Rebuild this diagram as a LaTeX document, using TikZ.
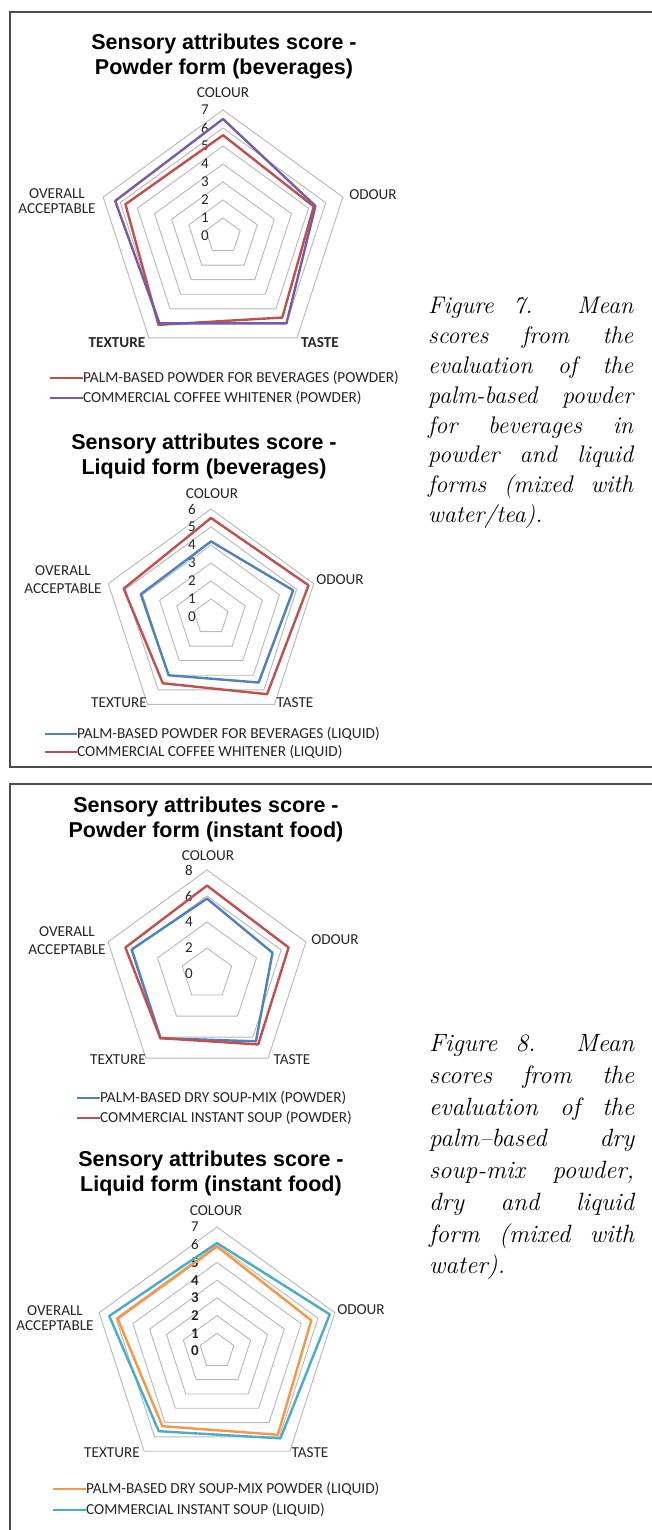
\documentclass[tikz,border=0pt]{standalone}
\usepackage{fontspec}
\newfontfamily\chartfont{Carlito}
\newfontfamily\titlefont{Liberation Sans}
\definecolor{xlred}{RGB}{192,80,77}
\definecolor{xlpurple}{RGB}{118,92,166}
\definecolor{xlblue}{RGB}{79,129,189}
\definecolor{xlorange}{RGB}{247,150,70}
\definecolor{xlteal}{RGB}{75,172,198}
\hyphenpenalty=10000
\exhyphenpenalty=10000
\begin{document}
\begin{tikzpicture}[x=1pt, y=-1pt,
  frameline/.style={draw=black!70, line width=1.4pt},
  gridline/.style={draw=black!28, line width=0.9pt},
  charttitle/.style={font=\titlefont\bfseries\fontsize{21.5}{25}\selectfont, align=center, inner sep=0pt, anchor=north},
  axislabel/.style={font=\chartfont\fontsize{15.2}{15}\selectfont, text=black!85, inner sep=0pt, align=center},
  ticklabel/.style={font=\chartfont\fontsize{15}{15}\selectfont, text=black!85, inner sep=0pt, anchor=east},
  legendtext/.style={font=\chartfont\fontsize{15.3}{15}\selectfont, text=black!85, inner sep=0pt, anchor=west},
  series/.style={line width=2.4pt, line join=round},
  legline/.style={line width=2pt},
  caption/.style={text width=205pt, align=justify, inner sep=0pt, anchor=north west}]

\useasboundingbox[fill=white] (0,0) rectangle (651,1530);

% frames
\draw[frameline] (670,12) -- (10,12) -- (10,767) -- (670,767);
\draw[frameline] (670,784) -- (10,784) -- (10,1545);

%% Figure 7, powder form
\node[charttitle] (ttlPowBev) at (224,33.5) {Sensory attributes score -\\Powder form (beverages)};
\begin{scope}[shift={(223,236)}]
	\foreach \k in {1,...,7}
		\draw[gridline] (-90:{\k*18}) -- (-18:{\k*18}) -- (54:{\k*18}) -- (126:{\k*18}) -- (198:{\k*18}) -- cycle;
	\foreach \k in {0,...,7}
		\node[ticklabel] at (-14,{-\k*18}) {\k};
	\draw[series, draw=xlred] (-90:{5.6*18}) -- (-18:{5.3*18}) -- (54:{5.6*18}) -- (126:{6.1*18}) -- (198:{5.7*18}) -- cycle;
	\draw[series, draw=xlpurple] (-90:{6.5*18}) -- (-18:{5.4*18}) -- (54:{6.0*18}) -- (126:{6.0*18}) -- (198:{6.3*18}) -- cycle;
\end{scope}
\node[axislabel] (colPowBev) at (223,93) {COLOUR};
\node[axislabel] (odoPowBev) at (373,195) {ODOUR};
\node[axislabel] (taPowBev) at (320,343) {\bfseries TASTE};
\node[axislabel] (texPowBev) at (117,343) {\bfseries TEXTURE};
\node[axislabel] (ovPowBev) at (57,201.5) {OVERALL\\ACCEPTABLE};
\node[legendtext] (legPalmPow) at (83,378) {PALM-BASED POWDER FOR BEVERAGES (POWDER)};
\node[legendtext] (legComPow) at (83,398) {COMMERCIAL COFFEE WHITENER (POWDER)};
\coordinate (legPalmPowS) at (50,378);
\coordinate (legComPowS) at (50,398);
\draw[legline, draw=xlred] (legPalmPowS) -- (legPalmPow.west);
\draw[legline, draw=xlpurple] (legComPowS) -- (legComPow.west);

%% Figure 7, liquid form
\node[charttitle] (ttlLiqBev) at (204,433.5) {Sensory attributes score -\\Liquid form (beverages)};
\begin{scope}[shift={(211,617)}]
	\foreach \k in {1,...,6}
		\draw[gridline] (-90:{\k*18}) -- (-18:{\k*18}) -- (54:{\k*18}) -- (126:{\k*18}) -- (198:{\k*18}) -- cycle;
	\foreach \k in {0,...,6}
		\node[ticklabel] at (-15,{-\k*18}) {\k};
	\draw[series, draw=xlblue] (-90:{4.2*18}) -- (-18:{4.8*18}) -- (54:{4.5*18}) -- (126:{4.0*18}) -- (198:{4.1*18}) -- cycle;
	\draw[series, draw=xlred] (-90:{5.5*18}) -- (-18:{5.7*18}) -- (54:{5.3*18}) -- (126:{4.55*18}) -- (198:{5.1*18}) -- cycle;
\end{scope}
\node[axislabel] (colLiqBev) at (212,494) {COLOUR};
\node[axislabel] (odoLiqBev) at (340,580) {ODOUR};
\node[axislabel] (taLiqBev) at (295,703) {TASTE};
\node[axislabel] (texLiqBev) at (119,703) {TEXTURE};
\node[axislabel] (ovLiqBev) at (63,580) {OVERALL\\[3pt]ACCEPTABLE};
\node[legendtext] (legPalmLiq) at (77,734) {PALM-BASED POWDER FOR BEVERAGES (LIQUID)};
\node[legendtext] (legComLiq) at (77,752) {COMMERCIAL COFFEE WHITENER (LIQUID)};
\coordinate (legPalmLiqS) at (45,734);
\coordinate (legComLiqS) at (45,752);
\draw[legline, draw=xlblue] (legPalmLiqS) -- (legPalmLiq.west);
\draw[legline, draw=xlred] (legComLiqS) -- (legComLiq.west);

\node[caption, font=\fontsize{24}{29.8}\selectfont\itshape] (capSeven) at (428,297.3) {Figure 7. Mean\linebreak scores from the\linebreak evaluation of the\linebreak palm-based powder\linebreak for beverages in\linebreak powder and liquid\linebreak forms (mixed with\linebreak water/tea).};

%% Figure 8, powder form
\node[charttitle] (ttlPowSoup) at (206,797) {Sensory attributes score -\\Powder form (instant food)};
\begin{scope}[shift={(207,974)}]
	\foreach \k in {2,4,6,8}
		\draw[gridline] (-90:{\k*13}) -- (-18:{\k*13}) -- (54:{\k*13}) -- (126:{\k*13}) -- (198:{\k*13}) -- cycle;
	\foreach \k in {0,2,4,6,8}
		\node[ticklabel] at (-14,{-\k*13}) {\k};
	\draw[series, draw=xlblue] (-90:{5.8*13}) -- (-18:{5.3*13}) -- (54:{6.4*13}) -- (126:{6.1*13}) -- (198:{6.1*13}) -- cycle;
	\draw[series, draw=xlred] (-90:{6.8*13}) -- (-18:{6.6*13}) -- (54:{6.7*13}) -- (126:{6.1*13}) -- (198:{6.6*13}) -- cycle;
\end{scope}
\node[axislabel] (colPowSoup) at (208,856) {COLOUR};
\node[axislabel] (odoPowSoup) at (335,940) {ODOUR};
\node[axislabel] (taPowSoup) at (292,1060) {TASTE};
\node[axislabel] (texPowSoup) at (118,1060) {TEXTURE};
\node[axislabel] (ovPowSoup) at (67,941) {OVERALL\\[3pt]ACCEPTABLE};
\node[legendtext] (legPalmSoupP) at (100,1098) {PALM-BASED DRY SOUP-MIX (POWDER)};
\node[legendtext] (legComSoupP) at (100,1118) {COMMERCIAL INSTANT SOUP (POWDER)};
\coordinate (legPalmSoupPS) at (77,1098);
\coordinate (legComSoupPS) at (77,1118);
\draw[legline, draw=xlblue] (legPalmSoupPS) -- (legPalmSoupP.west);
\draw[legline, draw=xlred] (legComSoupPS) -- (legComSoupP.west);

%% Figure 8, liquid form
\node[charttitle] (ttlLiqSoup) at (211,1151) {Sensory attributes score -\\Liquid form (instant food)};
\begin{scope}[shift={(217,1351)}]
	\foreach \k in {1,...,7}
		\draw[gridline] (-90:{\k*17.7}) -- (-18:{\k*17.7}) -- (54:{\k*17.7}) -- (126:{\k*17.7}) -- (198:{\k*17.7}) -- cycle;
	\foreach \k in {0,...,5}
		\node[ticklabel, font=\chartfont\bfseries\fontsize{15}{15}\selectfont] at (-18,{-\k*17.7}) {\k};
	\foreach \k in {6,7}
		\node[ticklabel] at (-18,{-\k*17.7}) {\k};
	\draw[series, draw=xlorange] (-90:{5.9*17.7}) -- (-18:{5.6*17.7}) -- (54:{5.85*17.7}) -- (126:{5.25*17.7}) -- (198:{5.9*17.7}) -- cycle;
	\draw[series, draw=xlteal] (-90:{6.1*17.7}) -- (-18:{6.7*17.7}) -- (54:{6.1*17.7}) -- (126:{5.6*17.7}) -- (198:{6.4*17.7}) -- cycle;
\end{scope}
\node[axislabel] (colLiqSoup) at (216,1211) {COLOUR};
\node[axislabel] (odoLiqSoup) at (361,1310) {ODOUR};
\node[axislabel] (taLiqSoup) at (310,1453) {TASTE};
\node[axislabel] (texLiqSoup) at (112,1453) {TEXTURE};
\node[axislabel] (ovLiqSoup) at (55,1318) {OVERALL\\ACCEPTABLE};
\node[legendtext] (legPalmSoupL) at (86,1489) {PALM-BASED DRY SOUP-MIX POWDER (LIQUID)};
\node[legendtext] (legComSoupL) at (86,1510) {COMMERCIAL INSTANT SOUP (LIQUID)};
\coordinate (legPalmSoupLS) at (53,1489);
\coordinate (legComSoupLS) at (53,1510);
\draw[legline, draw=xlorange] (legPalmSoupLS) -- (legPalmSoupL.west);
\draw[legline, draw=xlteal] (legComSoupLS) -- (legComSoupL.west);

\node[caption, font=\fontsize{25}{31.7}\selectfont\itshape] (capEight) at (429,1034.6) {Figure 8. Mean\linebreak scores from the\linebreak evaluation of the\linebreak palm--based dry\linebreak soup-mix powder,\linebreak dry and liquid\linebreak form (mixed with\linebreak water).};
\end{tikzpicture}
\end{document}
